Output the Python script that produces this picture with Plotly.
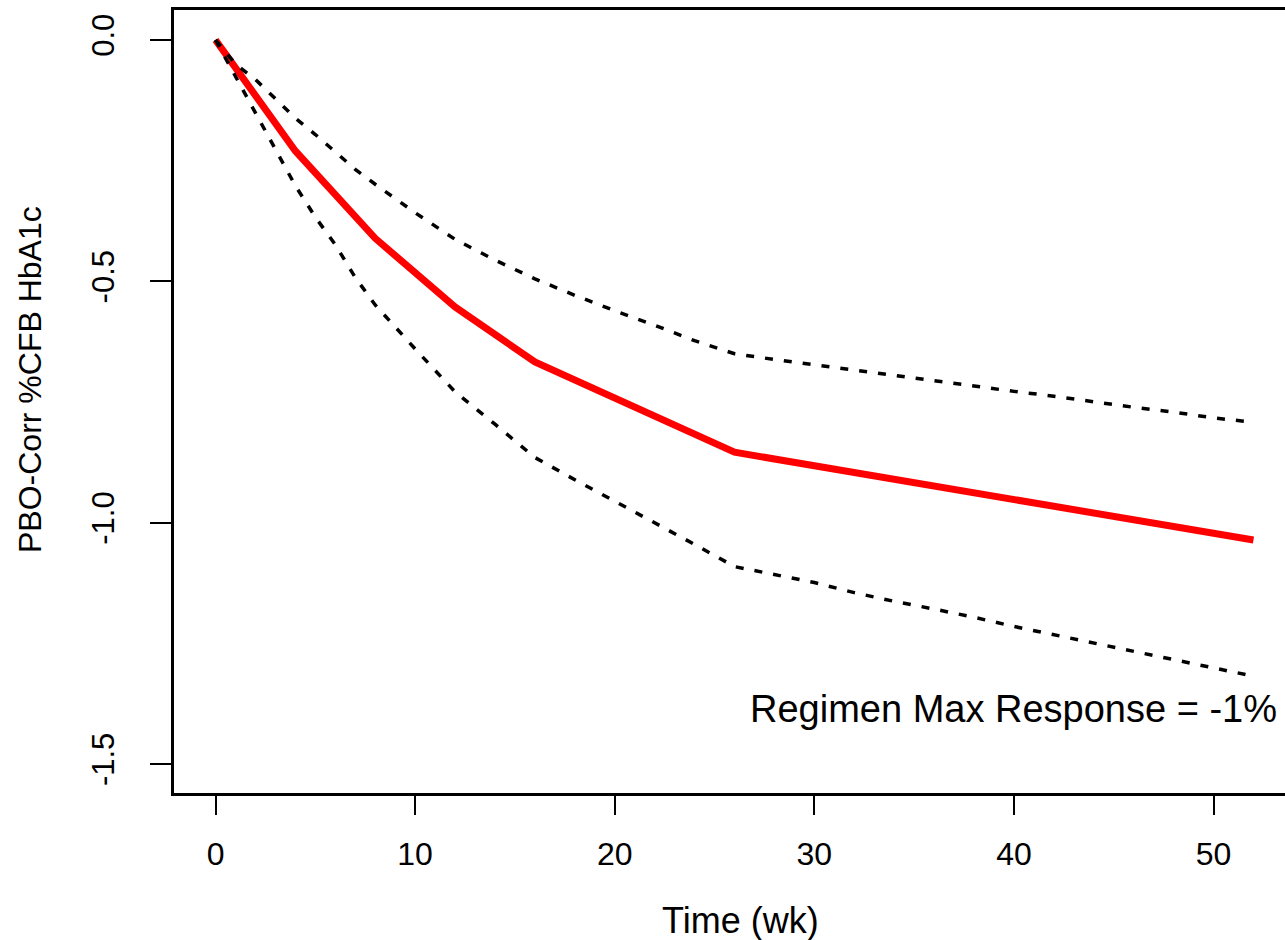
import plotly.graph_objects as go

# Mean regimen response (red line)
time_mean = [0, 4, 8, 12, 16, 26, 52]
resp_mean = [0.0, -0.230, -0.411, -0.553, -0.667, -0.854, -1.036]

# Interval bounds (dotted lines)
time_ci = [0, 1, 2, 3, 4, 5, 6, 7, 8, 10, 12, 14, 16, 18, 20, 22, 24, 26,
           28, 30, 32, 34, 36, 38, 40, 42, 44, 46, 48, 50, 52]
resp_upper = [0.0, -0.050, -0.082, -0.122, -0.162, -0.196, -0.231, -0.268, -0.299,
              -0.358, -0.413, -0.456, -0.495, -0.529, -0.561, -0.591, -0.623, -0.650,
              -0.662, -0.673, -0.685, -0.695, -0.706, -0.717, -0.728, -0.738, -0.750,
              -0.761, -0.771, -0.783, -0.792]
resp_lower = [0.0, -0.075, -0.152, -0.225, -0.302, -0.367, -0.424, -0.492, -0.549,
              -0.640, -0.729, -0.796, -0.865, -0.911, -0.955, -1.000, -1.045, -1.091,
              -1.108, -1.124, -1.145, -1.163, -1.179, -1.196, -1.215, -1.232, -1.249,
              -1.266, -1.284, -1.301, -1.318]

x_ticks = [0, 10, 20, 30, 40, 50]
y_ticks = [0.0, -0.5, -1.0, -1.5]
y_tick_text = ["0.0", "-0.5", "-1.0", "-1.5"]

x_title = "Time (wk)"
y_title = "PBO-Corr %CFB HbA1c"
note = "Regimen Max Response = -1%"

FONT = "Liberation Sans, Arial, Helvetica, sans-serif"

fig = go.Figure()
fig.add_trace(go.Scatter(x=time_mean, y=resp_mean, mode="lines",
                         line=dict(color="#ff0000", width=7), showlegend=False))
fig.add_trace(go.Scatter(x=time_ci, y=resp_upper, mode="lines",
                         line=dict(color="black", width=3.5, dash="8px,11px"),
                         showlegend=False))
fig.add_trace(go.Scatter(x=time_ci, y=resp_lower, mode="lines",
                         line=dict(color="black", width=3.5, dash="8px,11px"),
                         showlegend=False))

fig.add_annotation(x=53.3, y=-1.385, xref="x", yref="y", text=note,
                   showarrow=False, xanchor="right", yanchor="middle",
                   font=dict(family=FONT, size=38, color="black"))
fig.add_annotation(x=(740 - 174) / 1111, y=(793 - 921) / 783, xref="paper", yref="paper",
                   text=x_title, showarrow=False, xanchor="center", yanchor="middle",
                   font=dict(family=FONT, size=36, color="black"))
fig.add_annotation(x=(30 - 174) / 1111, y=(793 - 380) / 783, xref="paper", yref="paper",
                   text=y_title, showarrow=False, textangle=-90,
                   xanchor="center", yanchor="middle",
                   font=dict(family=FONT, size=32, color="black"))

fig.update_layout(
    width=1285, height=940,
    margin=dict(l=174, r=0, t=10, b=147, pad=0),
    paper_bgcolor="white", plot_bgcolor="white",
    font=dict(family=FONT, color="black"),
)
fig.update_xaxes(range=[-2.08, 53.58], tickvals=x_ticks, ticks="outside", ticklen=19,
                 tickwidth=1.8, tickcolor="black", showline=True, linecolor="black",
                 linewidth=2.5, mirror=True, showgrid=False, zeroline=False,
                 tickfont=dict(family=FONT, size=32, color="black"),
                 ticklabelstandoff=12)
fig.update_yaxes(range=[-1.56, 0.062], tickvals=y_ticks, ticktext=y_tick_text,
                 ticks="outside", ticklen=21, tickwidth=1.8, tickcolor="black",
                 showline=True, linecolor="black", linewidth=2.5, mirror=False,
                 showgrid=False, zeroline=False, tickangle=-90,
                 tickfont=dict(family=FONT, size=31, color="black"),
                 ticklabelstandoff=24)

fig.write_html("out.html", config={"displayModeBar": False},
               post_script="document.body.style.margin='0';document.body.style.overflow='hidden';")
